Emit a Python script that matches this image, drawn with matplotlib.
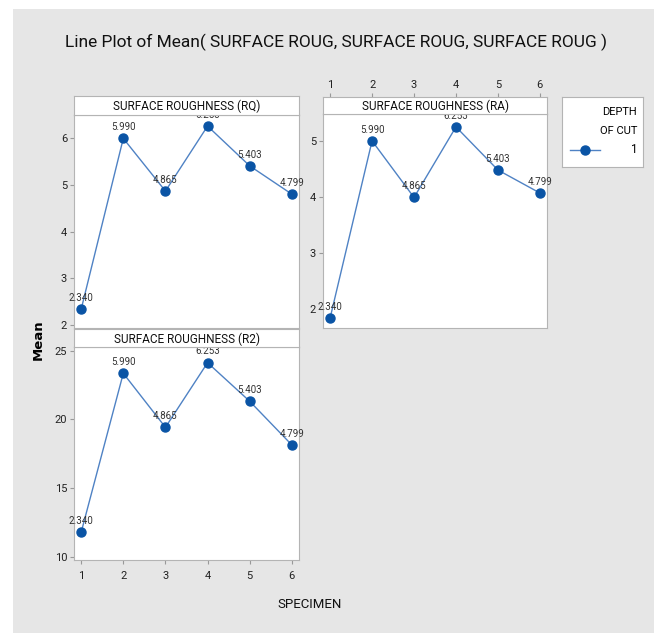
import numpy as np
import matplotlib.pyplot as plt
from matplotlib.patches import Rectangle

plt.rcParams['font.family'] = ['Roboto', 'DejaVu Sans']

specimen = [1, 2, 3, 4, 5, 6]
point_labels = ['2.340', '5.990', '4.865', '6.253', '5.403', '4.799']
rq_mean = [2.340, 5.990, 4.865, 6.253, 5.403, 4.799]
ra_mean = [1.84, 5.00, 3.99, 5.25, 4.48, 4.07]
r2_mean = [11.81, 23.35, 19.43, 24.12, 21.32, 18.15]

W, H = 654, 633
BG = '#e6e6e6'
EDGE = '#b4b4b4'
MARK = '#0a54a5'
LINE = '#4f82c4'
XLIM = (0.83, 6.17)


def fig_rect(x0, y0, x1, y1):
    # pixel box -> figure fraction [left, bottom, width, height]
    return [x0 / W, 1 - y1 / H, (x1 - x0) / W, (y1 - y0) / H]


def panel(fig, box, strip, title, values, ylim, yticks, xtop=False, xbottom=False):
    ax = fig.add_axes(fig_rect(*box))
    ax.plot(specimen, values, color=LINE, lw=1.0, marker='o', ms=6.5,
            mfc=MARK, mec=MARK, zorder=3)
    for x, y, lab in zip(specimen, values, point_labels):
        ax.annotate(lab, (x, y), xytext=(0, 4.5), textcoords='offset points',
                    ha='center', va='bottom', fontsize=7, color='#333333')
    ax.set_xlim(*XLIM)
    ax.set_ylim(*ylim)
    ax.set_yticks(yticks)
    ax.set_xticks(specimen)
    ax.tick_params(axis='both', labelsize=8, length=3, color='#999999',
                   labelcolor='#222222', pad=2)
    ax.tick_params(axis='x', bottom=xbottom, labelbottom=xbottom, top=False,
                   labeltop=False, pad=5)
    for s in ax.spines.values():
        s.set_color(EDGE)
    sax = fig.add_axes(fig_rect(*strip))
    sax.set_xlim(*XLIM)
    sax.set_yticks([])
    if xtop:
        sax.set_xticks(specimen)
        sax.tick_params(axis='x', bottom=False, labelbottom=False, top=True,
                        labeltop=True, labelsize=8, length=3, color='#999999',
                        labelcolor='#222222', pad=2)
    else:
        sax.set_xticks([])
    for s in sax.spines.values():
        s.set_color(EDGE)
    sax.text(0.5, 0.45, title, ha='center', va='center', fontsize=8.5,
             color='#111111', transform=sax.transAxes)
    return ax


fig = plt.figure(figsize=(W / 100, H / 100), dpi=100)
fig.patch.set_facecolor('white')
fig.patches.append(Rectangle((13 / W, 0), 1, 1 - 9 / H, transform=fig.transFigure,
                             facecolor=BG, edgecolor='none', zorder=-10))

panel(fig, (74, 115, 299, 328), (74, 96, 299, 115), 'SURFACE ROUGHNESS (RQ)',
      rq_mean, (1.94, 6.49), [2, 3, 4, 5, 6])
panel(fig, (323, 114, 547, 328), (323, 97, 547, 114), 'SURFACE ROUGHNESS (RA)',
      ra_mean, (1.66, 5.48), [2, 3, 4, 5], xtop=True)
panel(fig, (74, 347, 299, 560), (74, 329, 299, 347), 'SURFACE ROUGHNESS (R2)',
      r2_mean, (9.8, 25.26), [10, 15, 20, 25], xbottom=True)

# legend box
lax = fig.add_axes(fig_rect(562, 97, 643, 167))
lax.set_xlim(0, 1)
lax.set_ylim(0, 1)
lax.set_xticks([])
lax.set_yticks([])
for s in lax.spines.values():
    s.set_color(EDGE)
lax.text(0.93, 0.78, 'DEPTH', ha='right', va='center', fontsize=8)
lax.text(0.93, 0.52, 'OF CUT', ha='right', va='center', fontsize=8)
lax.text(0.93, 0.25, '1', ha='right', va='center', fontsize=8.5)
lax.plot([0.1, 0.47], [0.25, 0.25], color=LINE, lw=1.0)
lax.plot([0.285], [0.25], 'o', ms=6.5, color=MARK)

fig.text(336 / W, 1 - 42 / H,
         'Line Plot of Mean( SURFACE ROUG, SURFACE ROUG, SURFACE ROUG )',
         ha='center', va='center', fontsize=12.5, color='#111111')
fig.text(38 / W, 1 - 340 / H, 'Mean', rotation=90, ha='center', va='center',
         fontsize=9.5, fontweight='bold', family='DejaVu Sans')
fig.text(310 / W, 1 - 604 / H, 'SPECIMEN', ha='center', va='center',
         fontsize=9.5, color='#111111')

fig.savefig('out.png', dpi=100, facecolor=fig.get_facecolor())
